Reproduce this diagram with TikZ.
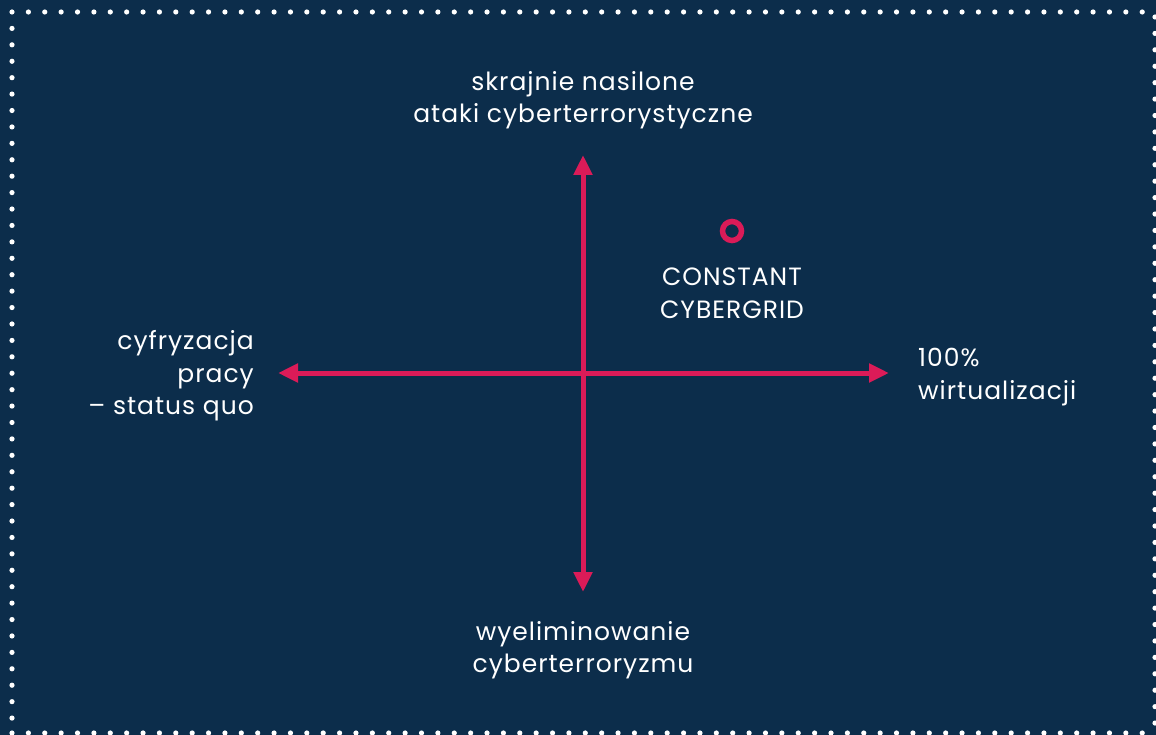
\documentclass[tikz,border=0pt]{standalone}
\usepackage{fontspec}
\setmainfont{Poppins}[LetterSpace=4]
\usetikzlibrary{arrows.meta}
\definecolor{navy}{RGB}{12,45,75}
\definecolor{mag}{RGB}{219,27,88}
\tikzset{
  lbl/.style={text=white, font=\fontsize{25}{32.5}\selectfont, inner sep=0pt},
  axis/.style={draw=mag, line width=5pt, -{Triangle[length=20pt,width=18pt]}, shorten >=0pt}
}
\begin{document}
\begin{tikzpicture}[x=1pt,y=-1pt]
\fill[navy] (0,0) rectangle (1156,735);
\useasboundingbox (0,0) rectangle (1156,735);
% dotted border
\foreach \i in {0,...,69} {\fill[white] (12+\i*16.38,12) circle (2.6);}
\foreach \i in {0,...,69} {\fill[white] (12+\i*16.38,733) circle (2.6);}
\foreach \i in {1,...,43} {\fill[white] (12,12+\i*16.42) circle (2.6);}
\foreach \i in {0,...,43} {\fill[white] (1155,17+\i*16.42) circle (2.6);}
% centre and axes
\coordinate (o) at (583,373);
\coordinate (top) at (583,155);
\coordinate (bot) at (583,592);
\coordinate (lft) at (278,373);
\coordinate (rgt) at (889,373);
\draw[axis] (o) -- (top);
\draw[axis] (o) -- (bot);
\draw[axis] (o) -- (lft);
\draw[axis] (o) -- (rgt);
\node[draw=mag, line width=5.5pt, circle, minimum size=19pt, inner sep=0pt] (pt) at (732,231) {};
% labels
\node[lbl, align=center] (tl) at (583,100) {skrajnie nasilone\\ataki cyberterrorystyczne};
\node[lbl, align=center] (bl) at (583,650) {wyeliminowanie\\cyberterroryzmu};
\node[lbl, align=right, anchor=east] (ll) at (254,376) {cyfryzacja\\pracy\\– status quo};
\node[lbl, align=left, anchor=west] (rl) at (918,377) {100\%\\wirtualizacji};
\node[lbl, align=center] (cl) at (732,293) {CONSTANT\\CYBERGRID};
\end{tikzpicture}
\end{document}
